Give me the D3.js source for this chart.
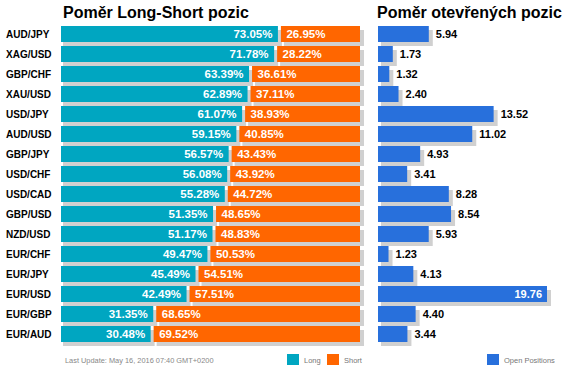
<!DOCTYPE html>
<html>
<head>
<meta charset="utf-8">
<script src="https://cdn.jsdelivr.net/npm/d3@7"></script>
<style>
  body { margin: 0; background: #fff; }
  svg { display: block; font-family: Arial, "Liberation Sans", sans-serif; }
</style>
</head>
<body>
<svg width="568" height="374"></svg>
<script>
// data
var pairs = ["AUD/JPY", "XAG/USD", "GBP/CHF", "XAU/USD", "USD/JPY", "AUD/USD", "GBP/JPY", "USD/CHF",
             "USD/CAD", "GBP/USD", "NZD/USD", "EUR/CHF", "EUR/JPY", "EUR/USD", "EUR/GBP", "EUR/AUD"];
var longPct  = [73.05, 71.78, 63.39, 62.89, 61.07, 59.15, 56.57, 56.08, 55.28, 51.35, 51.17, 49.47, 45.49, 42.49, 31.35, 30.48];
var shortPct = [26.95, 28.22, 36.61, 37.11, 38.93, 40.85, 43.43, 43.92, 44.72, 48.65, 48.83, 50.53, 54.51, 57.51, 68.65, 69.52];
var openPos  = [5.94, 1.73, 1.32, 2.40, 13.52, 11.02, 4.93, 3.41, 8.28, 8.54, 5.93, 1.23, 4.13, 19.76, 4.40, 3.44];
var titles = ["Poměr Long-Short pozic", "Poměr otevřených pozic"];
var legendLS = ["Long", "Short"];
var legendOpen = "Open Positions";
var updateText = "Last Update: May 16, 2016 07:40 GMT+0200";

var rows = pairs.map(function(p, i) {
  return { pair: p, long: longPct[i], short: shortPct[i], open: openPos[i] };
});

var colLong = "#00a6c1", colShort = "#ff6600", colOpen = "#2870dc", colShadow = "#d0d0d0";

var svg = d3.select("svg");

// shared row scale
var y = d3.scaleBand().domain(pairs).range([24, 344]).paddingInner(0.2).paddingOuter(0.1);
var bh = y.bandwidth();

// left panel: long/short split
var xL = d3.scaleLinear().domain([0, 100]).range([61, 360]);

// right panel: open positions
var xR = d3.scaleLinear().domain([0, d3.max(openPos)]).range([378, 547]);

// titles
svg.append("text").attr("x", 63).attr("y", 18)
  .attr("font-size", 16).attr("font-weight", "bold").attr("fill", "#000").text(titles[0]);
svg.append("text").attr("x", 377).attr("y", 18)
  .attr("font-size", 16).attr("font-weight", "bold").attr("fill", "#000").text(titles[1]);

// pair labels
svg.append("g").selectAll("text").data(rows).enter().append("text")
  .attr("x", 6)
  .attr("y", function(d) { return y(d.pair) + bh / 2; })
  .attr("dy", "0.35em")
  .attr("font-size", 10).attr("font-weight", "bold").attr("fill", "#000")
  .text(function(d) { return d.pair; });

var gL = svg.append("g");
var gR = svg.append("g");

rows.forEach(function(d) {
  var yy = y(d.pair);
  var split = xL(d.long);

  // shadows first
  gL.append("rect").attr("x", xL(0) + 2).attr("y", yy + 4)
    .attr("width", split - 1.5 - xL(0) + 2).attr("height", bh).attr("fill", colShadow);
  gL.append("rect").attr("x", split + 1.5 + 3).attr("y", yy + 4)
    .attr("width", xL(100) - split - 1.5 + 1).attr("height", bh).attr("fill", colShadow);

  gL.append("rect").attr("x", xL(0)).attr("y", yy)
    .attr("width", split - 1.5 - xL(0)).attr("height", bh).attr("fill", colLong);
  gL.append("rect").attr("x", split + 1.5).attr("y", yy)
    .attr("width", xL(100) - split - 1.5).attr("height", bh).attr("fill", colShort);

  gL.append("text").attr("x", split - 7).attr("y", yy + bh / 2).attr("dy", "0.36em")
    .attr("text-anchor", "end").attr("font-size", 11.5).attr("font-weight", "bold")
    .attr("fill", "#fff").text(d.long.toFixed(2) + "%");
  gL.append("text").attr("x", split + 7).attr("y", yy + bh / 2).attr("dy", "0.36em")
    .attr("font-size", 11.5).attr("font-weight", "bold")
    .attr("fill", "#fff").text(d.short.toFixed(2) + "%");

  // open positions
  var w = xR(d.open) - xR(0);
  gR.append("rect").attr("x", xR(0) + 3).attr("y", yy + 4)
    .attr("width", w + 1).attr("height", bh).attr("fill", colShadow);
  gR.append("rect").attr("x", xR(0)).attr("y", yy)
    .attr("width", w).attr("height", bh).attr("fill", colOpen);

  var inside = xR(d.open) + 40 > 568;
  gR.append("text")
    .attr("x", inside ? xR(d.open) - 5 : xR(d.open) + 7)
    .attr("y", yy + bh / 2).attr("dy", "0.36em")
    .attr("text-anchor", inside ? "end" : "start")
    .attr("font-size", 11).attr("font-weight", "bold")
    .attr("fill", inside ? "#fff" : "#000")
    .text(d.open.toFixed(2));
});

// footer
svg.append("text").attr("x", 65).attr("y", 363)
  .attr("font-size", 7.4).attr("fill", "#888").text(updateText);

// legends
var leg = svg.append("g");
[[287, colLong, legendLS[0]], [327, colShort, legendLS[1]], [487, colOpen, legendOpen]].forEach(function(l) {
  leg.append("rect").attr("x", l[0]).attr("y", 354).attr("width", 12).attr("height", 11).attr("fill", l[1]);
  leg.append("text").attr("x", l[0] + 17).attr("y", 363)
    .attr("font-size", 7.5).attr("fill", "#777").text(l[2]);
});
</script>
</body>
</html>
